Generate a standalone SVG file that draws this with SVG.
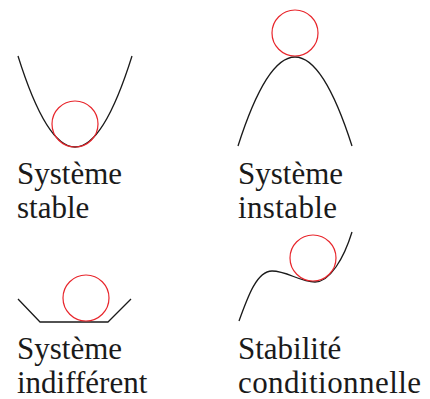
<svg xmlns="http://www.w3.org/2000/svg" width="430" height="399" viewBox="0 0 430 399">
<style>
.curve{fill:none;stroke:#1a1a1a;stroke-width:1.3;stroke-linejoin:round}
.ball{fill:none;stroke:#e8262c;stroke-width:1.2}
text{font-family:"Liberation Serif","Times New Roman",serif;font-size:31px;fill:#1a1a1a}
</style>
<rect width="430" height="399" fill="#ffffff"/>
<g id="stable">
<path class="curve" d="M18,56 Q75,238 132,56"/>
<circle class="ball" cx="75" cy="124" r="23"/>
<text x="17" y="184">Système</text>
<text x="17" y="218">stable</text>
</g>
<g id="instable">
<path class="curve" d="M238,146 Q295,-32 352,146"/>
<circle class="ball" cx="295" cy="33" r="23"/>
<text x="238" y="184">Système</text>
<text x="238" y="218" textLength="99">instable</text>
</g>
<g id="indifferent">
<polyline class="curve" points="18,299 40,322 108,322 131,299"/>
<circle class="ball" cx="86" cy="298" r="23"/>
<text x="17" y="359">Système</text>
<text x="17" y="393">indifférent</text>
</g>
<g id="conditionnelle">
<path class="curve" d="M239,321 C248,296 257,271 272,271 C287,271 300,282 315,282 C330,282 344,258 352,232"/>
<circle class="ball" cx="313" cy="258" r="23"/>
<text x="238" y="359">Stabilité</text>
<text x="238" y="393" textLength="183">conditionnelle</text>
</g>
</svg>
